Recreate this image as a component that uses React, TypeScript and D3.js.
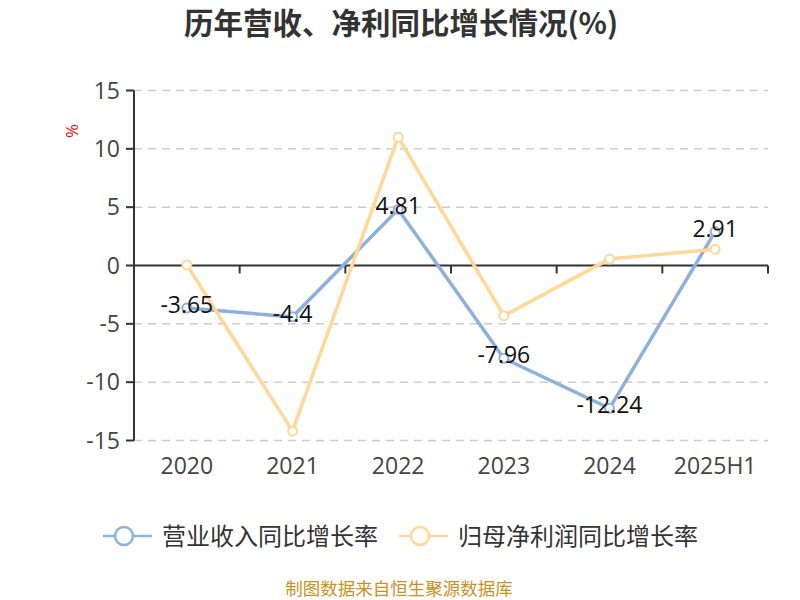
import React from "react";
import * as d3 from "d3";

const categories = ["2020", "2021", "2022", "2023", "2024", "2025H1"];
const revenueGrowth = [-3.65, -4.4, 4.81, -7.96, -12.24, 2.91];
const profitGrowth = [0.05, -14.2, 11.0, -4.3, 0.55, 1.4];
const yTicks = [15, 10, 5, 0, -5, -10, -15];
const seriesNames = ["营业收入同比增长率", "归母净利润同比增长率"];
const colors = ["#8eb0dc", "#ffd797"];

const W = 800, H = 600;
const left = 134, right = 768, top = 90.5, bottom = 440.5;
const font = "'Open Sans', 'Noto Sans CJK SC', sans-serif";
const cjk = "'Noto Sans CJK SC', 'Noto Sans', sans-serif";

export default function App() {
  const x = d3.scaleBand<string>().domain(categories).range([left, right]);
  const y = d3.scaleLinear().domain([-15, 15]).range([bottom, top]);
  const cx = (c: string) => (x(c) as number) + x.bandwidth() / 2;
  const line = d3.line<number>().x((_, i) => cx(categories[i])).y((d) => y(d));
  const y0 = y(0);
  const bounds = categories.map((c) => x(c) as number).concat([right]);

  return (
    <svg width={W} height={H} style={{ display: "block", position: "absolute", left: 0, top: 0 }} fontFamily={font}>
      <rect width={W} height={H} fill="#fff" />
      <text x={401} y={23} dy="0.36em" textAnchor="middle" fontSize={29.5} fontWeight="bold" fill="#333" fontFamily={cjk}>历年营收、净利同比增长情况(%)</text>
      <text transform={`translate(78,131) rotate(-90)`} textAnchor="middle" fontSize={17} fill="#f01010">%</text>
      {yTicks.filter((t) => t !== 0).map((t) => (
        <line key={t} x1={left} x2={right} y1={y(t)} y2={y(t)} stroke="#ccc" strokeWidth={1.5} strokeDasharray="8,6" />
      ))}
      {yTicks.map((t) => (
        <g key={"t" + t}>
          <line x1={left - 8} x2={left} y1={y(t)} y2={y(t)} stroke="#333" strokeWidth={2} />
          <text x={left - 14} y={y(t)} dy="0.35em" textAnchor="end" fontSize={23} fill="#444">{t}</text>
        </g>
      ))}
      <line x1={left} x2={left} y1={top} y2={bottom} stroke="#333" strokeWidth={2} />
      <line x1={left} x2={right} y1={y0} y2={y0} stroke="#333" strokeWidth={2} />
      {bounds.map((b, i) => (
        <line key={"b" + i} x1={b} x2={b} y1={y0} y2={y0 + 8} stroke="#333" strokeWidth={2} />
      ))}
      {categories.map((c) => (
        <text key={c} x={cx(c)} y={466} dy="0.35em" textAnchor="middle" fontSize={23} fill="#444">{c}</text>
      ))}
      {[revenueGrowth, profitGrowth].map((s, k) => (
        <g key={"s" + k}>
          <path d={line(s) as string} fill="none" stroke={colors[k]} strokeWidth={3.5} />
          {s.map((v, i) => (
            <circle key={i} cx={cx(categories[i])} cy={y(v)} r={4.5} fill="#fff" stroke={colors[k]} strokeWidth={2} />
          ))}
        </g>
      ))}
      {revenueGrowth.map((v, i) => (
        <text key={"l" + i} x={cx(categories[i])} y={y(v) - 3} dy="0.35em" textAnchor="middle" fontSize={23} fill="#111">{v}</text>
      ))}
      {seriesNames.map((n, k) => {
        const lx = k === 0 ? 103 : 399;
        return (
          <g key={n}>
            <line x1={lx} x2={lx + 49} y1={536} y2={536} stroke={colors[k]} strokeWidth={2.5} />
            <circle cx={lx + 21} cy={536} r={9} fill="#fff" stroke={colors[k]} strokeWidth={2.5} />
            <text x={lx + 59} y={536} dy="0.36em" fontSize={24} fill="#333" fontFamily={cjk}>{n}</text>
          </g>
        );
      })}
      <text x={399} y={589} dy="0.36em" textAnchor="middle" fontSize={17.5} fill="#c8921e" fontFamily={cjk}>制图数据来自恒生聚源数据库</text>
    </svg>
  );
}
